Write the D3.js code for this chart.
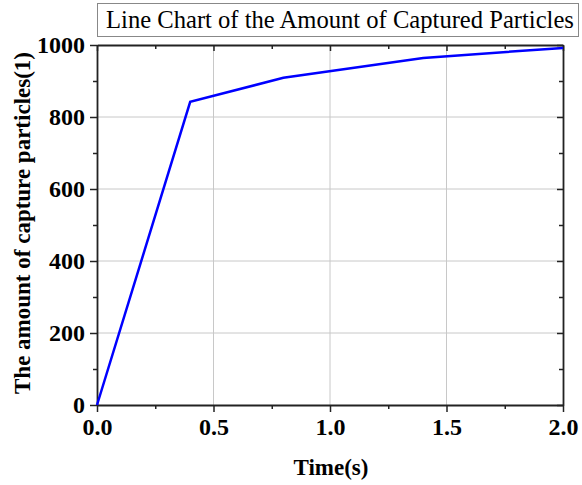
<!DOCTYPE html>
<meta charset="utf-8">
<style>
body { margin: 0; background: #fff; }
.tick text { font: bold 24px "Liberation Serif", "Times New Roman", serif; fill: #000; }
.axis path, .axis line { stroke: #222; }
.grid line { stroke: #c8c8c8; stroke-width: 1; }
</style>
<svg width="582" height="485"></svg>
<script src="https://cdn.jsdelivr.net/npm/d3@7"></script>
<script>

var times = [0, 0.4, 0.8, 1.4, 2.0];
var particles = [0, 842, 909, 964, 992];
var xTicks = [0, 0.5, 1.0, 1.5, 2.0];
var xMinor = [0.25, 0.75, 1.25, 1.75];
var yTicks = [0, 200, 400, 600, 800, 1000];
var yMinor = [100, 300, 500, 700, 900];

var svg = d3.select("svg"),
    margin = {left: 97, top: 45, right: 19, bottom: 80},
    width = +svg.attr("width") - margin.left - margin.right,
    height = +svg.attr("height") - margin.top - margin.bottom;

var x = d3.scaleLinear().domain([0, 2]).range([0, width]);
var y = d3.scaleLinear().domain([0, 1000]).range([height, 0]);

var g = svg.append("g").attr("transform", "translate(" + margin.left + "," + margin.top + ")");

// grid
var grid = g.append("g").attr("class", "grid");
grid.selectAll(".gx").data(xTicks.slice(1, -1)).enter().append("line")
    .attr("x1", x).attr("x2", x).attr("y1", 0).attr("y2", height);
grid.selectAll(".gy").data(yTicks.slice(1, -1)).enter().append("line")
    .attr("y1", y).attr("y2", y).attr("x1", 0).attr("x2", width);

// minor ticks
function minor(axis, vals) {
  return axis.tickValues(vals).tickSize(4).tickFormat("");
}
g.append("g").attr("class", "axis").attr("transform", "translate(0," + height + ")")
    .call(minor(d3.axisBottom(x), xMinor)).select(".domain").remove();
g.append("g").attr("class", "axis")
    .call(minor(d3.axisLeft(y), yMinor)).select(".domain").remove();
g.append("g").attr("class", "axis")
    .call(minor(d3.axisBottom(x), xMinor)).select(".domain").remove();
g.append("g").attr("class", "axis").attr("transform", "translate(" + width + ",0)")
    .call(minor(d3.axisLeft(y), yMinor)).select(".domain").remove();

// major axes
g.append("g").attr("class", "axis").attr("transform", "translate(0," + height + ")")
    .call(d3.axisBottom(x).tickValues(xTicks).tickSize(7).tickSizeOuter(0).tickPadding(6).tickFormat(d3.format(".1f")));
g.append("g").attr("class", "axis")
    .call(d3.axisLeft(y).tickValues(yTicks).tickSize(7).tickSizeOuter(0).tickPadding(5).tickFormat(d3.format("d")));
g.append("g").attr("class", "axis")
    .call(d3.axisBottom(x).tickValues(xTicks).tickSize(6).tickSizeOuter(0).tickFormat(""));
g.append("g").attr("class", "axis").attr("transform", "translate(" + width + ",0)")
    .call(d3.axisLeft(y).tickValues(yTicks).tickSize(6).tickSizeOuter(0).tickFormat(""));
g.selectAll(".axis path.domain").attr("stroke-width", 1.8);
g.selectAll(".axis .tick line").attr("stroke-width", 1.5);

// line
var line = d3.line().x(function(d, i) { return x(times[i]); }).y(function(d) { return y(d); });
g.append("path").datum(particles)
    .attr("d", line)
    .attr("fill", "none")
    .attr("stroke", "#0000ff")
    .attr("stroke-width", 2.5);

// labels
svg.append("text")
    .attr("x", 331).attr("y", 475)
    .attr("text-anchor", "middle")
    .style("font", "bold 23px 'Liberation Serif', serif")
    .text("Time(s)");
svg.append("text")
    .attr("transform", "translate(30," + (margin.top + height / 2 - 2) + ") rotate(-90)")
    .attr("text-anchor", "middle")
    .style("font", "bold 23px 'Liberation Serif', serif")
    .text("The amount of capture particles(1)");

// title box
svg.append("rect")
    .attr("x", 97.5).attr("y", 3.5).attr("width", 481).attr("height", 33)
    .attr("fill", "#fff").attr("stroke", "#888").attr("stroke-width", 1);
svg.append("text")
    .attr("x", 340).attr("y", 28)
    .attr("text-anchor", "middle")
    .style("font", "24.6px 'Liberation Serif', serif")
    .text("Line Chart of the Amount of Captured Particles");

</script>
